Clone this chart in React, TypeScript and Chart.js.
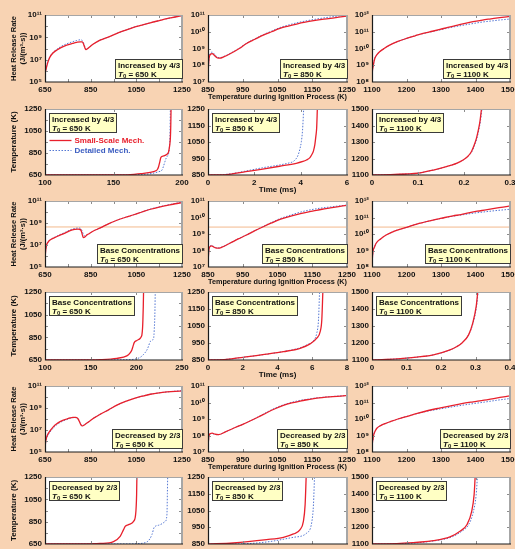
import React, { useEffect, useRef } from "react";
import { Chart, registerables } from "chart.js";
Chart.register(...registerables);

// ---------------- DATA ----------------
const SERIES_NAMES = ["Small-Scale Mech.", "Detailed Mech."];
const CASE_NAMES = ["Increased by 4/3", "Base Concentrations", "Decreased by 2/3"];
const T0_LABELS = ["650", "850", "1100"];

// Heat release rate: temperature (K) and log10 of HRR (J/(m^3 s))
const hrrInc650T = [650, 651, 653, 657, 663, 672, 685, 701, 720, 745, 770, 789, 805, 813, 818, 823, 829, 840, 860, 891, 930, 965, 1000, 1038, 1075, 1111, 1150, 1184, 1220, 1250];
const hrrInc650Red = [5.0, 5.7, 6.0, 6.35, 6.8, 7.25, 7.6, 7.85, 8.08, 8.3, 8.45, 8.55, 8.6, 8.6, 8.45, 8.15, 7.9, 8.05, 8.38, 8.75, 9.05, 9.35, 9.62, 9.9, 10.1, 10.3, 10.5, 10.67, 10.82, 10.95];
const hrrInc650Blue = [5.0, 5.7, 6.0, 6.4, 6.85, 7.3, 7.65, 7.92, 8.18, 8.42, 8.6, 8.72, 8.78, 8.72, 8.55, 8.25, 7.95, 8.05, 8.38, 8.75, 9.05, 9.35, 9.62, 9.9, 10.1, 10.3, 10.5, 10.67, 10.83, 10.97];

const hrrInc850T = [850, 851, 853, 857, 862, 868, 876, 884, 895, 915, 940, 961, 985, 1009, 1033, 1057, 1081, 1105, 1130, 1154, 1178, 1202, 1226, 1250];
const hrrInc850Red = [7.0, 7.8, 8.4, 8.65, 8.7, 8.6, 8.45, 8.42, 8.5, 8.7, 9.0, 9.3, 9.55, 9.8, 10.0, 10.2, 10.34, 10.46, 10.57, 10.66, 10.74, 10.8, 10.87, 10.94];
const hrrInc850Blue = [7.0, 7.8, 8.45, 8.72, 8.78, 8.68, 8.5, 8.45, 8.52, 8.72, 9.02, 9.32, 9.58, 9.83, 10.04, 10.25, 10.4, 10.53, 10.64, 10.73, 10.81, 10.88, 10.94, 11.0];

const hrrInc1100T = [1100, 1101, 1103, 1108, 1115, 1122, 1135, 1151, 1175, 1200, 1225, 1248, 1275, 1297, 1320, 1345, 1370, 1393, 1420, 1445, 1470, 1500];
const hrrInc1100Red = [8.0, 8.6, 8.9, 9.4, 9.65, 9.8, 10.0, 10.2, 10.42, 10.6, 10.76, 10.9, 11.03, 11.14, 11.26, 11.38, 11.5, 11.6, 11.7, 11.77, 11.84, 11.92];
const hrrInc1100Blue = [8.0, 8.6, 8.9, 9.4, 9.65, 9.8, 10.0, 10.2, 10.42, 10.6, 10.76, 10.89, 11.01, 11.11, 11.22, 11.32, 11.41, 11.49, 11.58, 11.64, 11.7, 11.76];

const hrrBase650T = [650, 651, 653, 657, 665, 672, 690, 716, 740, 760, 780, 795, 805, 810, 814, 818, 826, 833, 845, 860, 892, 930, 965, 1000, 1039, 1075, 1112, 1150, 1185, 1220, 1250];
const hrrBase650Red = [5.0, 5.9, 6.5, 7.0, 7.3, 7.45, 7.65, 7.9, 8.1, 8.3, 8.42, 8.45, 8.4, 8.2, 7.9, 7.67, 7.75, 7.9, 8.05, 8.25, 8.55, 8.95, 9.25, 9.5, 9.75, 10.0, 10.25, 10.45, 10.6, 10.75, 10.85];
const hrrBase650Blue = [5.0, 5.9, 6.5, 7.0, 7.3, 7.47, 7.68, 7.95, 8.17, 8.37, 8.5, 8.55, 8.52, 8.4, 8.2, 7.95, 7.83, 7.9, 8.05, 8.25, 8.55, 8.95, 9.25, 9.5, 9.76, 10.02, 10.27, 10.47, 10.63, 10.78, 10.9];

const hrrBase850T = [850, 851, 853, 856, 860, 866, 872, 879, 890, 913, 937, 961, 985, 1009, 1033, 1057, 1081, 1105, 1130, 1154, 1178, 1202, 1226, 1250];
const hrrBase850Red = [7.0, 7.6, 8.1, 8.24, 8.28, 8.22, 8.16, 8.14, 8.2, 8.44, 8.7, 8.94, 9.2, 9.44, 9.67, 9.88, 10.04, 10.18, 10.3, 10.4, 10.5, 10.58, 10.66, 10.74];
const hrrBase850Blue = [7.0, 7.6, 8.12, 8.27, 8.31, 8.25, 8.18, 8.15, 8.21, 8.45, 8.71, 8.95, 9.21, 9.46, 9.7, 9.93, 10.1, 10.26, 10.4, 10.5, 10.58, 10.64, 10.7, 10.75];

const hrrBase1100T = [1100, 1101, 1103, 1107, 1112, 1125, 1141, 1165, 1197, 1230, 1264, 1290, 1311, 1335, 1358, 1380, 1405, 1430, 1455, 1480, 1500];
const hrrBase1100Red = [8.0, 8.5, 8.94, 9.2, 9.44, 9.7, 9.94, 10.18, 10.38, 10.6, 10.78, 10.9, 11.0, 11.1, 11.18, 11.28, 11.38, 11.46, 11.55, 11.63, 11.7];
const hrrBase1100Blue = [8.0, 8.5, 8.94, 9.2, 9.44, 9.7, 9.94, 10.18, 10.38, 10.6, 10.78, 10.9, 10.99, 11.08, 11.15, 11.22, 11.29, 11.35, 11.41, 11.46, 11.5];

const hrrDec650T = [650, 651, 653, 658, 665, 675, 687, 700, 716, 730, 745, 760, 772, 785, 795, 802, 808, 813, 825, 845, 865, 891, 930, 965, 1000, 1038, 1075, 1111, 1150, 1184, 1220, 1250];
const hrrDec650Red = [5.0, 5.5, 5.96, 6.4, 6.71, 7.0, 7.31, 7.55, 7.76, 7.9, 8.0, 8.1, 8.15, 8.14, 8.0, 7.7, 7.45, 7.37, 7.5, 7.8, 8.1, 8.42, 8.85, 9.26, 9.58, 9.86, 10.07, 10.25, 10.38, 10.46, 10.52, 10.55];
const hrrDec650Blue = [5.0, 5.45, 5.9, 6.3, 6.6, 6.9, 7.2, 7.45, 7.68, 7.83, 7.95, 8.06, 8.12, 8.12, 8.02, 7.75, 7.48, 7.38, 7.5, 7.8, 8.1, 8.42, 8.85, 9.26, 9.58, 9.86, 10.07, 10.25, 10.38, 10.46, 10.53, 10.57];

const hrrDec850T = [850, 851, 853, 857, 862, 870, 880, 900, 930, 950, 971, 995, 1019, 1043, 1067, 1091, 1115, 1139, 1163, 1200, 1239, 1250];
const hrrDec850Red = [7.0, 7.6, 8.0, 8.12, 8.14, 8.08, 8.05, 8.22, 8.5, 8.68, 8.88, 9.12, 9.38, 9.62, 9.82, 9.97, 10.09, 10.18, 10.26, 10.34, 10.4, 10.42];
const hrrDec850Blue = [7.0, 7.55, 7.95, 8.1, 8.12, 8.07, 8.05, 8.22, 8.5, 8.68, 8.88, 9.14, 9.41, 9.66, 9.86, 10.01, 10.13, 10.21, 10.28, 10.35, 10.41, 10.43];

const hrrDec1100T = [1100, 1101, 1103, 1105, 1110, 1114, 1125, 1140, 1153, 1175, 1200, 1231, 1260, 1295, 1328, 1360, 1393, 1425, 1460, 1500];
const hrrDec1100Red = [8.0, 8.5, 8.8, 9.04, 9.3, 9.44, 9.6, 9.74, 9.84, 10.0, 10.15, 10.34, 10.5, 10.66, 10.8, 10.93, 11.04, 11.14, 11.27, 11.4];
const hrrDec1100Blue = [8.0, 8.5, 8.8, 9.04, 9.3, 9.44, 9.6, 9.74, 9.84, 10.0, 10.15, 10.33, 10.47, 10.6, 10.72, 10.83, 10.93, 11.02, 11.13, 11.24];

// faint reference line seen in the base-concentration HRR panels (log10 values)
const baseRefExp = [8.64, 9.42, 10.42];

// Temperature histories: time (ms) and temperature (K)
const tmpInc650RedTime = [100, 150, 160, 165, 170, 176.8, 180.5, 182, 182.9, 183.8, 184.6, 186.6, 189, 190.2, 190.7, 191.2, 191.5, 191.8, 192];
const tmpInc650RedTemp = [650, 650.5, 652, 656, 662, 674, 686, 700, 725, 770, 811, 823, 838, 860, 892, 940, 983, 1100, 1250];
const tmpInc650BlueTime = [100, 160, 170, 178, 183, 185.4, 186.5, 187.5, 188.5, 189.5, 190.3, 190.8, 191.2, 191.5];
const tmpInc650BlueTemp = [650, 651, 655, 664, 680, 695, 730, 770, 805, 825, 850, 900, 1000, 1250];

const tmpInc850RedTime = [0, 0.5, 0.9, 1.63, 2.36, 3.09, 3.81, 4.1, 4.25, 4.4, 4.47, 4.55, 4.61, 4.66, 4.69, 4.72];
const tmpInc850RedTemp = [850, 850.5, 854, 870, 886, 903, 921, 932, 941, 955, 971, 995, 1032, 1090, 1133, 1250];
const tmpInc850BlueTime = [0, 0.5, 1.0, 1.63, 2.36, 3.09, 3.5, 3.67, 3.8, 3.89, 3.97, 4.03, 4.08, 4.13];
const tmpInc850BlueTemp = [850, 851, 858, 874, 894, 911, 923, 931, 948, 971, 1010, 1052, 1120, 1250];

const tmpInc1100RedTime = [0, 0.04, 0.075, 0.1, 0.133, 0.15, 0.169, 0.185, 0.198, 0.208, 0.216, 0.222, 0.227, 0.231, 0.2346, 0.238];
const tmpInc1100RedTemp = [1100, 1102, 1106, 1111, 1130, 1141, 1157, 1172, 1191, 1212, 1241, 1280, 1322, 1370, 1423, 1500];
const tmpInc1100BlueTime = [0, 0.04, 0.075, 0.1, 0.133, 0.15, 0.169, 0.185, 0.198, 0.208, 0.217, 0.223, 0.228, 0.232, 0.2355, 0.239];
const tmpInc1100BlueTemp = [1100, 1102, 1106, 1111, 1130, 1141, 1157, 1172, 1191, 1212, 1241, 1280, 1322, 1370, 1423, 1500];

const tmpBase650RedTime = [100, 140, 160, 178.7, 189.6, 193, 195.1, 196.5, 197.7, 200.6, 204.3, 205.5, 206.1, 206.8, 207.2, 207.6, 207.9];
const tmpBase650RedTemp = [650, 650, 653, 665, 686, 710, 739, 775, 803, 822, 842, 858, 872, 930, 1005, 1120, 1250];
const tmpBase650BlueTime = [100, 170, 190, 197, 204.3, 208, 211.6, 213.5, 215.2, 218.9, 219.3, 219.6, 220.1, 220.4, 220.7];
const tmpBase650BlueTemp = [650, 651, 653, 656, 674, 700, 739, 775, 813, 842, 870, 916, 1000, 1100, 1250];

const tmpBase850RedTime = [0, 1.06, 2.02, 3.37, 4.34, 5.3, 5.88, 6.26, 6.46, 6.55, 6.61];
const tmpBase850RedTemp = [850, 854, 866, 884, 899, 919, 945, 978, 1018, 1087, 1250];
const tmpBase850BlueTime = [0, 1.06, 2.02, 3.37, 4.34, 5.3, 5.7, 6.07, 6.26, 6.36, 6.42];
const tmpBase850BlueTemp = [850, 854, 866, 884, 900, 922, 940, 964, 1008, 1087, 1250];

const tmpBase1100RedTime = [0, 0.04, 0.082, 0.13, 0.178, 0.226, 0.245, 0.26, 0.28, 0.292, 0.302, 0.3065];
const tmpBase1100RedTemp = [1100, 1103, 1108, 1117, 1130, 1159, 1178, 1199, 1248, 1317, 1415, 1500];
const tmpBase1100BlueTime = [0, 0.04, 0.082, 0.13, 0.178, 0.226, 0.245, 0.26, 0.28, 0.293, 0.303, 0.3075];
const tmpBase1100BlueTemp = [1100, 1103, 1108, 1117, 1130, 1159, 1178, 1199, 1248, 1317, 1415, 1500];

const tmpDec650RedTime = [100, 140, 160.4, 175, 182.3, 186, 187.8, 191.5, 197, 199.2, 200.3, 200.6];
const tmpDec650RedTemp = [650, 650.5, 655, 672, 719, 779, 808, 823, 853, 913, 1092, 1250];
const tmpDec650BlueTime = [100, 190, 200, 211.6, 217.1, 219.6, 224.4, 231.7, 233.5, 234.0, 234.3];
const tmpDec650BlueTemp = [650, 650.5, 653, 668, 734, 800, 818, 853, 913, 1100, 1250];

const tmpDec850RedTime = [0, 1.45, 3.37, 4.34, 4.92, 5.3, 5.49, 5.59, 5.65];
const tmpDec850RedTemp = [850, 856, 876, 890, 910, 936, 985, 1085, 1250];
const tmpDec850BlueTime = [0, 1.45, 3.37, 4.92, 5.69, 5.98, 6.07, 6.13];
const tmpDec850BlueTemp = [850, 850, 862, 890, 916, 985, 1085, 1250];

const tmpDec1100RedTime = [0, 0.082, 0.178, 0.226, 0.255, 0.275, 0.289, 0.296, 0.299];
const tmpDec1100RedTemp = [1100, 1104, 1120, 1142, 1176, 1215, 1295, 1395, 1500];
const tmpDec1100BlueTime = [0, 0.082, 0.178, 0.231, 0.26, 0.28, 0.294, 0.302, 0.3055];
const tmpDec1100BlueTemp = [1100, 1102, 1118, 1142, 1176, 1215, 1295, 1395, 1500];

// Tick values per column
const hrrXTicks = [[650, 750, 850, 950, 1050, 1150, 1250], [850, 950, 1050, 1150, 1250], [1100, 1200, 1300, 1400, 1500]];
const hrrXLabels = [[650, 850, 1050, 1250], [850, 950, 1050, 1150, 1250], [1100, 1200, 1300, 1400, 1500]];
const hrrYExp = [[5, 6, 7, 8, 9, 10, 11], [7, 8, 9, 10, 11], [8, 9, 10, 11, 12]];
const hrrYLabelExp = [[5, 7, 9, 11], [7, 8, 9, 10, 11], [8, 9, 10, 11, 12]];
const tempYTicks = [[650, 750, 850, 950, 1050, 1150, 1250], [850, 950, 1050, 1150, 1250], [1100, 1200, 1300, 1400, 1500]];
const tempYLabels = [[650, 850, 1050, 1250], [850, 950, 1050, 1150, 1250], [1100, 1200, 1300, 1400, 1500]];
const timeTicksInc = [[100, 150, 200], [0, 2, 4, 6], [0, 0.1, 0.2, 0.3]];
const timeTicksOther = [[100, 150, 200, 250], [0, 2, 4, 6, 8], [0, 0.1, 0.2, 0.3, 0.4]];

// ---------------- STYLE / LAYOUT ----------------
const BG = "#f8d3b3";
const RED = "#e8202c";
const BLUE = "#5578d4";
const BLUE_TXT = "#3a5cc0";
const REF_COLOR = "#f3b98c";
const FONT = "'Liberation Sans', Arial, Helvetica, sans-serif";
const COL_LEFT = [45, 208, 372];
const COL_W = [137, 139, 138];
const ROW_TOP = [15, 109, 201, 292, 386, 477];
const ROW_H = [67, 66, 66, 68, 66, 67];

const SUP: Record<string, string> = { "0": "⁰", "1": "¹", "2": "²", "3": "³", "4": "⁴", "5": "⁵", "6": "⁶", "7": "⁷", "8": "⁸", "9": "⁹" };
const powLabel = (e: number) => "10" + String(e).split("").map((c) => SUP[c]).join("");

type Pt = { x: number; y: number };
const ptsLog = (xs: number[], es: number[]): Pt[] => xs.map((x, i) => ({ x, y: Math.pow(10, es[i]) }));
const ptsLin = (xs: number[], ys: number[]): Pt[] => xs.map((x, i) => ({ x, y: ys[i] }));

type Spec = {
  key: string; row: number; col: number; hrr: boolean;
  xTicks: number[]; xLabels: number[]; yTicks: number[]; yLabels: number[];
  red: Pt[]; blue: Pt[]; ref?: number; note: string; t0: string; legend: boolean;
};

const HRR_SETS = [
  [[hrrInc650T, hrrInc650Red, hrrInc650Blue], [hrrInc850T, hrrInc850Red, hrrInc850Blue], [hrrInc1100T, hrrInc1100Red, hrrInc1100Blue]],
  [[hrrBase650T, hrrBase650Red, hrrBase650Blue], [hrrBase850T, hrrBase850Red, hrrBase850Blue], [hrrBase1100T, hrrBase1100Red, hrrBase1100Blue]],
  [[hrrDec650T, hrrDec650Red, hrrDec650Blue], [hrrDec850T, hrrDec850Red, hrrDec850Blue], [hrrDec1100T, hrrDec1100Red, hrrDec1100Blue]],
];
const TMP_SETS = [
  [[tmpInc650RedTime, tmpInc650RedTemp, tmpInc650BlueTime, tmpInc650BlueTemp], [tmpInc850RedTime, tmpInc850RedTemp, tmpInc850BlueTime, tmpInc850BlueTemp], [tmpInc1100RedTime, tmpInc1100RedTemp, tmpInc1100BlueTime, tmpInc1100BlueTemp]],
  [[tmpBase650RedTime, tmpBase650RedTemp, tmpBase650BlueTime, tmpBase650BlueTemp], [tmpBase850RedTime, tmpBase850RedTemp, tmpBase850BlueTime, tmpBase850BlueTemp], [tmpBase1100RedTime, tmpBase1100RedTemp, tmpBase1100BlueTime, tmpBase1100BlueTemp]],
  [[tmpDec650RedTime, tmpDec650RedTemp, tmpDec650BlueTime, tmpDec650BlueTemp], [tmpDec850RedTime, tmpDec850RedTemp, tmpDec850BlueTime, tmpDec850BlueTemp], [tmpDec1100RedTime, tmpDec1100RedTemp, tmpDec1100BlueTime, tmpDec1100BlueTemp]],
];

const SPECS: Spec[] = [];
for (let c = 0; c < 3; c++) {
  for (let col = 0; col < 3; col++) {
    const h = HRR_SETS[c][col];
    SPECS.push({
      key: `h${c}${col}`, row: c * 2, col, hrr: true,
      xTicks: hrrXTicks[col], xLabels: hrrXLabels[col],
      yTicks: hrrYExp[col], yLabels: hrrYLabelExp[col],
      red: ptsLog(h[0], h[1]), blue: ptsLog(h[0], h[2]),
      ref: c === 1 ? baseRefExp[col] : undefined,
      note: CASE_NAMES[c], t0: T0_LABELS[col], legend: false,
    });
    const t = TMP_SETS[c][col];
    const xt = c === 0 ? timeTicksInc[col] : timeTicksOther[col];
    SPECS.push({
      key: `t${c}${col}`, row: c * 2 + 1, col, hrr: false,
      xTicks: xt, xLabels: xt, yTicks: tempYTicks[col], yLabels: tempYLabels[col],
      red: ptsLin(t[0], t[1]), blue: ptsLin(t[2], t[3]),
      note: CASE_NAMES[c], t0: T0_LABELS[col], legend: c === 0 && col === 0,
    });
  }
}

const fnt = (style: string, size: number) => `${style} ${size}px ${FONT}`;

function makeDeco(spec: Spec) {
  return {
    id: "deco",
    beforeDraw(chart: any) {
      const { ctx, chartArea: a } = chart;
      ctx.save();
      ctx.fillStyle = "#ffffff";
      ctx.fillRect(a.left, a.top, a.right - a.left, a.bottom - a.top);
      ctx.restore();
    },
    afterDatasetsDraw(chart: any) {
      const { ctx, chartArea: a } = chart;
      const xs = chart.scales.x;
      const ys = chart.scales.y;
      ctx.save();
      ctx.strokeStyle = "#8c8c8c";
      ctx.lineWidth = 1;
      ctx.beginPath();
      for (const t of xs.ticks) {
        const p = Math.round(xs.getPixelForValue(t.value)) + 0.5;
        if (p < a.left + 2 || p > a.right - 2) continue;
        ctx.moveTo(p, a.bottom); ctx.lineTo(p, a.bottom - 3);
        ctx.moveTo(p, a.top); ctx.lineTo(p, a.top + 3);
      }
      for (const t of ys.ticks) {
        const p = Math.round(ys.getPixelForValue(t.value)) + 0.5;
        if (p < a.top + 2 || p > a.bottom - 2) continue;
        ctx.moveTo(a.left, p); ctx.lineTo(a.left + 3, p);
        ctx.moveTo(a.right, p); ctx.lineTo(a.right - 3, p);
      }
      ctx.stroke();
      // frame
      ctx.strokeStyle = "#a6a6a6";
      ctx.lineWidth = 1;
      ctx.beginPath(); ctx.moveTo(a.left, a.top + 0.5); ctx.lineTo(a.right, a.top + 0.5); ctx.stroke();
      ctx.lineWidth = 2;
      ctx.beginPath(); ctx.moveTo(a.right, a.top); ctx.lineTo(a.right, a.bottom); ctx.stroke();
      ctx.strokeStyle = "#1a1a1a";
      ctx.lineWidth = 1.2;
      ctx.beginPath(); ctx.moveTo(a.left + 0.5, a.top); ctx.lineTo(a.left + 0.5, a.bottom); ctx.lineTo(a.right + 1, a.bottom); ctx.stroke();

      // annotation box
      ctx.font = fnt("bold", 8);
      const w1 = ctx.measureText(spec.note).width;
      ctx.font = fnt("italic bold", 8);
      const wT = ctx.measureText("T").width;
      ctx.font = fnt("bold", 6);
      const wS = ctx.measureText("0").width;
      const rest = ` = ${spec.t0} K`;
      ctx.font = fnt("bold", 8);
      const wR = ctx.measureText(rest).width;
      const bw = Math.round(Math.max(w1, wT + wS + wR) + 5);
      const bh = 19;
      const bx = Math.round(spec.hrr ? a.right - bw : a.left + 4) + 0.5;
      const by = Math.round(spec.hrr ? a.bottom - 4 - bh : a.top + 4) + 0.5;
      ctx.fillStyle = "#ffffc4";
      ctx.fillRect(bx, by, bw, bh);
      ctx.strokeStyle = "#3a3a3a";
      ctx.lineWidth = 1;
      ctx.strokeRect(bx, by, bw, bh);
      ctx.fillStyle = "#111";
      ctx.textAlign = "left";
      ctx.textBaseline = "alphabetic";
      ctx.font = fnt("bold", 8);
      ctx.fillText(spec.note, bx + 2.5, by + 8.5);
      ctx.font = fnt("italic bold", 8);
      ctx.fillText("T", bx + 2.5, by + 17);
      ctx.font = fnt("bold", 6);
      ctx.fillText("0", bx + 2.5 + wT, by + 18.5);
      ctx.font = fnt("bold", 8);
      ctx.fillText(rest, bx + 2.5 + wT + wS, by + 17);

      if (spec.legend) {
        const ly1 = Math.round(by + bh + 7) + 0.5;
        const ly2 = ly1 + 10;
        ctx.lineWidth = 1.3;
        ctx.strokeStyle = RED;
        ctx.beginPath(); ctx.moveTo(bx, ly1); ctx.lineTo(bx + 22, ly1); ctx.stroke();
        ctx.lineWidth = 1;
        ctx.strokeStyle = BLUE;
        ctx.setLineDash([1.5, 1.5]);
        ctx.beginPath(); ctx.moveTo(bx, ly2); ctx.lineTo(bx + 22, ly2); ctx.stroke();
        ctx.setLineDash([]);
        ctx.textBaseline = "middle";
        ctx.font = fnt("bold", 8);
        ctx.fillStyle = RED;
        ctx.fillText(SERIES_NAMES[0], bx + 25, ly1);
        ctx.fillStyle = BLUE_TXT;
        ctx.fillText(SERIES_NAMES[1], bx + 25, ly2);
      }
      ctx.restore();
    },
  };
}

function Panel({ spec }: { spec: Spec }) {
  const ref = useRef<HTMLCanvasElement | null>(null);
  const L = spec.col === 0 ? 45 : 40;
  const T = 10, R = 18, B = 34;
  const w = COL_W[spec.col];
  const h = ROW_H[spec.row];
  const W = L + w + R;
  const H = T + h + B;

  useEffect(() => {
    if (!ref.current) return;
    const tickFont = { family: FONT, size: 8, weight: "bold" as const };
    const xMin = spec.xTicks[0];
    const xMax = spec.xTicks[spec.xTicks.length - 1];
    const datasets: any[] = [
      { label: SERIES_NAMES[0], data: spec.red, borderColor: RED, borderWidth: 1.3, pointRadius: 0, cubicInterpolationMode: "monotone", fill: false },
      { label: SERIES_NAMES[1], data: spec.blue, borderColor: BLUE, borderWidth: 1, borderDash: [1.5, 1.5], pointRadius: 0, cubicInterpolationMode: "monotone", fill: false },
    ];
    if (spec.ref !== undefined) {
      datasets.push({ label: "ref", data: [{ x: xMin, y: Math.pow(10, spec.ref) }, { x: xMax, y: Math.pow(10, spec.ref) }], borderColor: REF_COLOR, borderWidth: 1, pointRadius: 0, fill: false });
    }
    const yScale: any = spec.hrr
      ? {
          type: "logarithmic",
          min: Math.pow(10, spec.yTicks[0]),
          max: Math.pow(10, spec.yTicks[spec.yTicks.length - 1]),
          afterBuildTicks: (s: any) => { s.ticks = spec.yTicks.map((e) => ({ value: Math.pow(10, e) })); },
          ticks: {
            autoSkip: false, padding: 3, color: "#111", font: tickFont,
            callback: (v: any) => { const e = Math.round(Math.log10(Number(v))); return spec.yLabels.includes(e) ? powLabel(e) : ""; },
          },
        }
      : {
          type: "linear",
          min: spec.yTicks[0],
          max: spec.yTicks[spec.yTicks.length - 1],
          afterBuildTicks: (s: any) => { s.ticks = spec.yTicks.map((v) => ({ value: v })); },
          ticks: {
            autoSkip: false, padding: 3, color: "#111", font: tickFont,
            callback: (v: any) => (spec.yLabels.includes(Number(v)) ? String(v) : ""),
          },
        };
    yScale.grid = { display: false, drawTicks: false };
    yScale.border = { display: false };
    yScale.afterFit = (s: any) => { s.width = L; s.paddingTop = 0; s.paddingBottom = 0; };
    if (spec.col === 0) {
      yScale.title = spec.hrr
        ? { display: true, text: ["Heat Release Rate", "(J/(m³·s))"], color: "#111", font: { family: FONT, size: 7.5, weight: "bold", lineHeight: 1.2 }, padding: { top: 9, bottom: 0 } }
        : { display: true, text: "Temperature (K)", color: "#111", font: { family: FONT, size: 8, weight: "bold", lineHeight: 1.2 }, padding: { top: 8.7, bottom: 0 } };
    }
    const xScale: any = {
      type: "linear",
      min: xMin,
      max: xMax,
      afterBuildTicks: (s: any) => { s.ticks = spec.xTicks.map((v) => ({ value: v })); },
      ticks: {
        autoSkip: false, maxRotation: 0, minRotation: 0, padding: 3, color: "#111", font: tickFont,
        callback: (v: any) => (spec.xLabels.includes(Number(v)) ? String(v) : ""),
      },
      grid: { display: false, drawTicks: false },
      border: { display: false },
      afterFit: (s: any) => { s.height = B; s.paddingLeft = 0; s.paddingRight = 0; },
    };
    if (spec.col === 1) {
      xScale.title = {
        display: true,
        text: spec.hrr ? "Temperature during Ignition Process (K)" : "Time (ms)",
        color: "#111",
        font: { family: FONT, size: 8, weight: "bold", lineHeight: 1.2 },
        padding: { top: 0, bottom: 14 },
      };
    }
    const chart = new Chart(ref.current, {
      type: "line",
      data: { datasets },
      options: {
        responsive: false,
        maintainAspectRatio: false,
        animation: false,
        events: [],
        layout: { padding: { left: 0, top: T, right: R, bottom: 0 } },
        plugins: { legend: { display: false }, tooltip: { enabled: false } },
        scales: { x: xScale, y: yScale },
      } as any,
      plugins: [makeDeco(spec)],
    });
    return () => chart.destroy();
  }, []);

  return (
    <canvas
      ref={ref}
      width={W}
      height={H}
      style={{ position: "absolute", left: COL_LEFT[spec.col] - L, top: ROW_TOP[spec.row] - T, width: W, height: H }}
    />
  );
}

export default function App() {
  return (
    <div style={{ position: "fixed", left: 0, top: 0, width: 515, height: 549, overflow: "hidden", background: BG }}>
      {SPECS.map((s) => (
        <Panel key={s.key} spec={s} />
      ))}
    </div>
  );
}
